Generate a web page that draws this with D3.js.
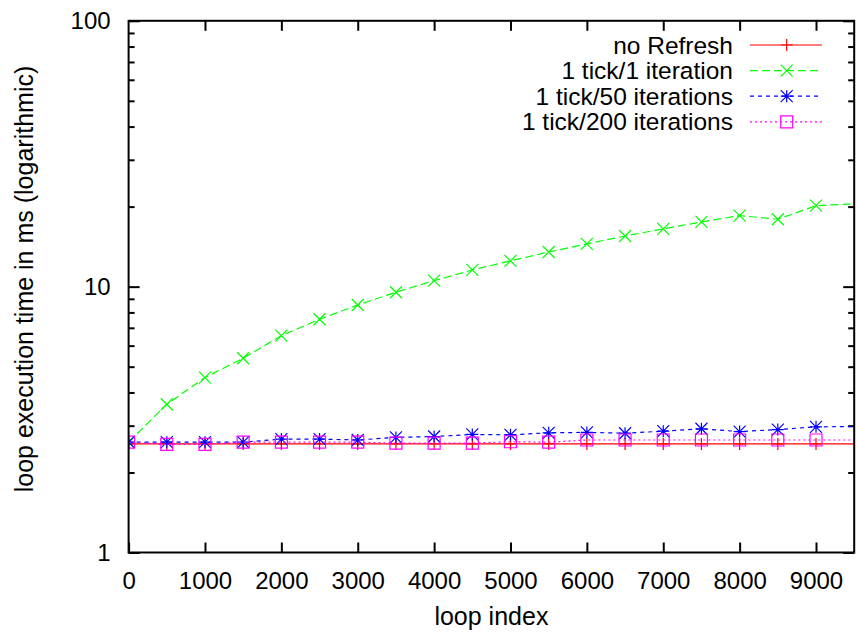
<!DOCTYPE html>
<html>
<head>
<meta charset="utf-8">
<script src="https://cdn.jsdelivr.net/npm/d3@7"></script>
<style>
body{margin:0;background:#fff}
text{font-family:"Liberation Sans",Arial,sans-serif;font-size:24px;fill:#000}
.title{font-size:25px}
.key{font-size:24.5px}
</style>
</head>
<body>
<svg></svg>
<script>
// loop index of every sample (the last one lies past the right border and is clipped)
var loopIndex = [0,500,1000,1500,2000,2500,3000,3500,4000,4500,5000,5500,6000,6500,7000,7500,8000,8500,9000,10000]
var noRefresh = [2.56,2.56,2.56,2.56,2.56,2.56,2.56,2.56,2.56,2.56,2.56,2.56,2.56,2.56,2.56,2.56,2.56,2.56,2.56,2.56]
var tick1     = [2.6,3.61,4.55,5.38,6.54,7.54,8.53,9.53,10.53,11.56,12.5,13.5,14.48,15.51,16.49,17.52,18.5,17.93,20.17,20.8]
var tick50    = [2.6,2.6,2.6,2.6,2.67,2.67,2.65,2.71,2.73,2.78,2.77,2.82,2.83,2.81,2.86,2.92,2.85,2.9,2.97,2.98]
var tick200   = [2.6,2.55,2.55,2.6,2.6,2.6,2.6,2.58,2.58,2.58,2.61,2.6,2.65,2.65,2.65,2.65,2.65,2.65,2.65,2.65]
var seriesNames = ["no Refresh","1 tick/1 iteration","1 tick/50 iterations","1 tick/200 iterations"]

var xTicks = [0,1000,2000,3000,4000,5000,6000,7000,8000,9000]
var yTicks = [1,10,100]
var yMinor = [2,3,4,5,6,7,8,9,20,30,40,50,60,70,80,90]

var screen = {width:858,height:632}
var plot = {left:128.6,right:854.2,top:20.8,bottom:552.5}

var styles = [
    {color:"#ff0000",dash:null,symbol:"plus"},
    {color:"#00ff00",dash:"8,4",symbol:"cross"},
    {color:"#0000ff",dash:"4,4",symbol:"star"},
    {color:"#ff00ff",dash:"2,3",symbol:"square"}
]

var symbolPath = function(type,x,y)
{
    var s = 6
    var plus = "M"+(x-s)+","+y+"H"+(x+s)+"M"+x+","+(y-s)+"V"+(y+s)
    var cross = "M"+(x-s)+","+(y-s)+"L"+(x+s)+","+(y+s)+"M"+(x-s)+","+(y+s)+"L"+(x+s)+","+(y-s)
    if(type=="plus") return plus
    if(type=="cross") return cross
    if(type=="star") return plus+cross
    return "M"+(x-s)+","+(y-s)+"h"+(2*s)+"v"+(2*s)+"h"+(-2*s)+"Z"
}

var svg = d3.select("svg")
    .attr("width",screen.width)
    .attr("height",screen.height)

svg.append("rect").attr("width",screen.width).attr("height",screen.height).attr("fill","#fff")

var xScale = d3.scaleLinear()
    .domain([0,9500])
    .range([plot.left,plot.right])
var yScale = d3.scaleLog()
    .domain([1,100])
    .range([plot.bottom,plot.top])

var styleAxis = function(g)
{
    g.select(".domain").remove()
    g.selectAll("line").attr("stroke","#000").attr("stroke-width",2)
    g.selectAll("text").attr("font-size",null).attr("font-family",null)
}

// bottom and top x axes (ticks point inward)
svg.append("g")
    .attr("transform","translate(0,"+plot.bottom+")")
    .call(d3.axisBottom(xScale).tickValues(xTicks).tickSize(-10).tickPadding(19).tickFormat(d3.format("d")))
    .call(styleAxis)
svg.append("g")
    .attr("transform","translate(0,"+plot.top+")")
    .call(d3.axisTop(xScale).tickValues(xTicks.slice(1)).tickSize(-10).tickFormat(""))
    .call(styleAxis)

// left and right y axes, major and minor ticks
svg.append("g")
    .attr("transform","translate("+plot.left+",0)")
    .call(d3.axisLeft(yScale).tickValues(yTicks).tickSize(-11).tickPadding(18).tickFormat(d3.format("d")))
    .call(styleAxis)
svg.append("g")
    .attr("transform","translate("+plot.left+",0)")
    .call(d3.axisLeft(yScale).tickValues(yMinor).tickSize(-6).tickFormat(""))
    .call(styleAxis)
svg.append("g")
    .attr("transform","translate("+plot.right+",0)")
    .call(d3.axisRight(yScale).tickValues(yTicks).tickSize(-11).tickFormat(""))
    .call(styleAxis)
svg.append("g")
    .attr("transform","translate("+plot.right+",0)")
    .call(d3.axisRight(yScale).tickValues(yMinor).tickSize(-6).tickFormat(""))
    .call(styleAxis)

svg.append("clipPath").attr("id","clip")
    .append("rect")
    .attr("x",plot.left).attr("y",plot.top)
    .attr("width",plot.right-plot.left).attr("height",plot.bottom-plot.top)

var allSeries = [noRefresh,tick1,tick50,tick200]

var lineGenerator = d3.line()
    .x(function(v,i){return xScale(loopIndex[i])})
    .y(function(v){return yScale(v)})

var series = svg.append("g").attr("clip-path","url(#clip)")
    .selectAll("g")
    .data(allSeries)
    .enter()
    .append("g")

series.append("path")
    .attr("d",lineGenerator)
    .attr("fill","none")
    .attr("stroke",function(d,i){return styles[i].color})
    .attr("stroke-width",1.2)
    .attr("stroke-dasharray",function(d,i){return styles[i].dash})

series.each(function(values,i)
{
    d3.select(this).selectAll(".pt")
        .data(values.filter(function(v,j){return loopIndex[j]<=9500}))
        .enter()
        .append("path")
        .attr("class","pt")
        .attr("d",function(v,j){return symbolPath(styles[i].symbol,xScale(loopIndex[j]),yScale(v))})
        .attr("fill","none")
        .attr("stroke",styles[i].color)
        .attr("stroke-width",1.2)
})

// frame
svg.append("rect")
    .attr("x",plot.left).attr("y",plot.top)
    .attr("width",plot.right-plot.left).attr("height",plot.bottom-plot.top)
    .attr("fill","none").attr("stroke","#000").attr("stroke-width",2)

// legend
var legend = svg.append("g")
    .selectAll("g")
    .data(seriesNames)
    .enter()
    .append("g")
    .attr("transform",function(d,i){return "translate(0,"+(45+i*25.6)+")"})

legend.append("text")
    .attr("class","key")
    .attr("x",733)
    .attr("dy","0.35em")
    .attr("text-anchor","end")
    .text(function(d){return d})
legend.append("line")
    .attr("x1",750).attr("x2",822)
    .attr("stroke",function(d,i){return styles[i].color})
    .attr("stroke-width",1.2)
    .attr("stroke-dasharray",function(d,i){return styles[i].dash})
legend.append("path")
    .attr("d",function(d,i){return symbolPath(styles[i].symbol,786.7,0)})
    .attr("fill","none")
    .attr("stroke",function(d,i){return styles[i].color})
    .attr("stroke-width",1.2)

// axis titles
svg.append("text")
    .attr("class","title")
    .attr("x",(plot.left+plot.right)/2)
    .attr("y",625)
    .attr("text-anchor","middle")
    .text("loop index")
svg.append("text")
    .attr("class","title")
    .attr("transform","translate(33,279) rotate(-90)")
    .attr("text-anchor","middle")
    .text("loop execution time in ms (logarithmic)")
</script>
</body>
</html>
